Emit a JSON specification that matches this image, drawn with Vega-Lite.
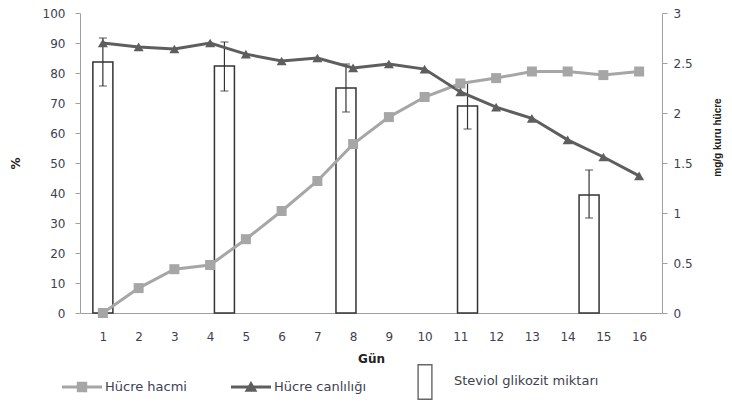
{
  "$schema": "https://vega.github.io/schema/vega-lite/v6.json",
  "width": 582,
  "height": 300,
  "autosize": "none",
  "padding": {"left": 80, "top": 13, "right": 70, "bottom": 90},
  "background": "white",
  "config": {
    "view": {"stroke": null},
    "font": "DejaVu Sans",
    "axis": {"labelFont": "DejaVu Sans", "labelFontSize": 12, "labelColor": "#3d4150", "domainColor": "#a0a0a0", "tickColor": "#a0a0a0", "grid": false, "titleFont": "DejaVu Sans", "titleColor": "#222"},
    "axisX": {"labelOverlap": false, "labelBound": false, "labelFlush": false}
  },
  "datasets": {
    "lines": [
      {"day": 1, "series": "Hücre hacmi", "value": 0},
      {"day": 2, "series": "Hücre hacmi", "value": 8.3},
      {"day": 3, "series": "Hücre hacmi", "value": 14.6},
      {"day": 4, "series": "Hücre hacmi", "value": 16},
      {"day": 5, "series": "Hücre hacmi", "value": 24.6},
      {"day": 6, "series": "Hücre hacmi", "value": 34},
      {"day": 7, "series": "Hücre hacmi", "value": 44},
      {"day": 8, "series": "Hücre hacmi", "value": 56.3},
      {"day": 9, "series": "Hücre hacmi", "value": 65.3},
      {"day": 10, "series": "Hücre hacmi", "value": 72},
      {"day": 11, "series": "Hücre hacmi", "value": 76.5},
      {"day": 12, "series": "Hücre hacmi", "value": 78.3},
      {"day": 13, "series": "Hücre hacmi", "value": 80.5},
      {"day": 14, "series": "Hücre hacmi", "value": 80.5},
      {"day": 15, "series": "Hücre hacmi", "value": 79.3},
      {"day": 16, "series": "Hücre hacmi", "value": 80.5},
      {"day": 1, "series": "Hücre canlılığı", "value": 90},
      {"day": 2, "series": "Hücre canlılığı", "value": 88.7},
      {"day": 3, "series": "Hücre canlılığı", "value": 88},
      {"day": 4, "series": "Hücre canlılığı", "value": 90},
      {"day": 5, "series": "Hücre canlılığı", "value": 86.3},
      {"day": 6, "series": "Hücre canlılığı", "value": 84},
      {"day": 7, "series": "Hücre canlılığı", "value": 85},
      {"day": 8, "series": "Hücre canlılığı", "value": 81.7},
      {"day": 9, "series": "Hücre canlılığı", "value": 83},
      {"day": 10, "series": "Hücre canlılığı", "value": 81.3},
      {"day": 11, "series": "Hücre canlılığı", "value": 73.7},
      {"day": 12, "series": "Hücre canlılığı", "value": 68.6},
      {"day": 13, "series": "Hücre canlılığı", "value": 64.9},
      {"day": 14, "series": "Hücre canlılığı", "value": 57.7},
      {"day": 15, "series": "Hücre canlılığı", "value": 52},
      {"day": 16, "series": "Hücre canlılığı", "value": 45.7}
    ],
    "bars": [
      {"pos": 1, "amount": 2.51, "lo": 2.27, "hi": 2.75},
      {"pos": 4.4, "amount": 2.47, "lo": 2.22, "hi": 2.71},
      {"pos": 7.8, "amount": 2.25, "lo": 2.01, "hi": 2.49},
      {"pos": 11.2, "amount": 2.07, "lo": 1.84, "hi": 2.31},
      {"pos": 14.6, "amount": 1.18, "lo": 0.95, "hi": 1.43}
    ]
  },
  "layer": [
    {
      "data": {"name": "bars"},
      "encoding": {
        "x": {"field": "pos", "type": "quantitative", "scale": {"domain": [0.5, 16.5], "nice": false, "zero": false},
          "axis": {"values": [1,2,3,4,5,6,7,8,9,10,11,12,13,14,15,16], "labelOverlap": false, "ticks": false, "labelPadding": 18, "title": "Gün", "titleFontWeight": "bold", "titleFontSize": 12, "titlePadding": 11}}
      },
      "layer": [
        {
          "mark": {"type": "bar", "width": 20, "fill": "white", "stroke": "#333", "strokeWidth": 1.5},
          "encoding": {
            "y": {"field": "amount", "type": "quantitative", "scale": {"domain": [0, 3], "nice": false},
              "axis": {"orient": "right", "values": [0, 0.5, 1, 1.5, 2, 2.5, 3], "labelExpr": "datum.value + ''", "tickSize": 5, "labelPadding": 6, "title": "mg/g kuru hücre", "titleFont": "Liberation Sans", "titleFontWeight": "bold", "titleFontSize": 10, "titleAngle": 270, "titleY": 124, "titleX": 60}}
          }
        },
        {
          "mark": {"type": "rule", "stroke": "#333", "strokeWidth": 1.2},
          "encoding": {"y": {"field": "lo", "type": "quantitative"}, "y2": {"field": "hi"}}
        },
        {
          "mark": {"type": "tick", "orient": "horizontal", "size": 8, "color": "#333", "thickness": 1.2},
          "encoding": {"y": {"field": "lo", "type": "quantitative"}}
        },
        {
          "mark": {"type": "tick", "orient": "horizontal", "size": 8, "color": "#333", "thickness": 1.2},
          "encoding": {"y": {"field": "hi", "type": "quantitative"}}
        }
      ]
    },
    {
      "data": {"name": "lines"},
      "encoding": {
        "x": {"field": "day", "type": "quantitative",
          "axis": {"values": [1,2,3,4,5,6,7,8,9,10,11,12,13,14,15,16], "labelOverlap": false, "ticks": false, "labelPadding": 18, "title": "Gün", "titleFontWeight": "bold", "titleFontSize": 12, "titlePadding": 11}},
        "y": {"field": "value", "type": "quantitative", "scale": {"domain": [0, 100], "nice": false},
          "axis": {"orient": "left", "values": [0,10,20,30,40,50,60,70,80,90,100], "tickSize": 5, "labelPadding": 10, "title": "%", "titleFontSize": 12, "titleX": -58, "titleY": 150}},
        "color": {"field": "series", "type": "nominal",
          "scale": {"domain": ["Hücre hacmi", "Hücre canlılığı", "Steviol glikozit miktarı"], "range": ["#a6a6a6", "#5e5e5e", "#666666"]},
          "legend": {
            "title": null, "orient": "none", "direction": "horizontal", "legendX": -18, "legendY": 348,
            "symbolSize": 1600, "symbolStrokeWidth": 0, "labelFont": "DejaVu Sans", "labelFontSize": 13, "labelColor": "#3d4150", "labelOffset": 3, "columnPadding": 44,
            "encode": {"symbols": {"update": {
              "shape": {"signal": "datum.value === 'Hücre hacmi' ? 'M-1,-0.075H1V0.075H-1Z M-0.26,-0.26H0.26V0.26H-0.26Z' : datum.value === 'Hücre canlılığı' ? 'M-1,-0.075H1V0.075H-1Z M0,-0.3L0.32,0.24H-0.32Z' : 'M-0.68,-0.85H0.08V0.95H-0.68Z M-0.61,-0.78V0.88H0.01V-0.78Z'"},
              "fill": {"signal": "datum.value === 'Hücre hacmi' ? '#a6a6a6' : datum.value === 'Hücre canlılığı' ? '#5e5e5e' : '#777777'"},
              "stroke": {"value": "transparent"},
              "strokeWidth": {"value": 0},
              "opacity": {"value": 1}
            }}}
          }
        }
      },
      "layer": [
        {"mark": {"type": "line", "strokeWidth": 3}},
        {"mark": {"type": "point", "filled": true, "opacity": 1, "size": 100},
          "encoding": {"shape": {"field": "series", "type": "nominal", "scale": {"domain": ["Hücre hacmi", "Hücre canlılığı"], "range": ["square", "triangle-up"]}, "legend": null}}}
      ]
    }
  ],
  "resolve": {"scale": {"y": "independent"}}
}
